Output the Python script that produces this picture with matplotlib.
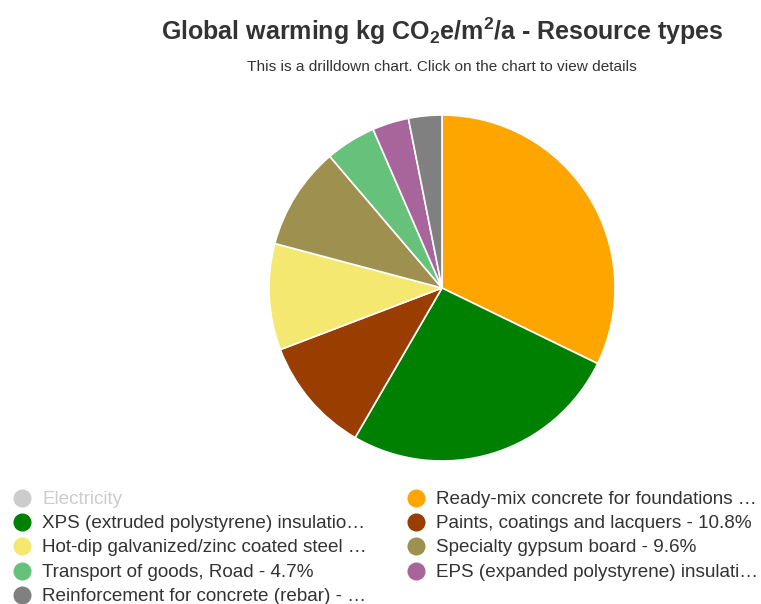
import numpy as np
import matplotlib.pyplot as plt
from matplotlib.lines import Line2D

plt.rcParams['font.family'] = ['Liberation Sans', 'DejaVu Sans']
plt.rcParams['mathtext.fontset'] = 'custom'
plt.rcParams['mathtext.rm'] = 'Liberation Sans:bold'
plt.rcParams['mathtext.default'] = 'rm'

# --- Data (share in %) ---
labels = ["Electricity",
          "Ready-mix concrete for foundations …",
          "XPS (extruded polystyrene) insulatio…",
          "Paints, coatings and lacquers - 10.8%",
          "Hot-dip galvanized/zinc coated steel …",
          "Specialty gypsum board - 9.6%",
          "Transport of goods, Road - 4.7%",
          "EPS (expanded polystyrene) insulati…",
          "Reinforcement for concrete (rebar) - …"]
values  = [0.3, 32.1, 26.1, 10.8, 9.9, 9.6, 4.7, 3.4, 3.1]
visible = [False, True, True, True, True, True, True, True, True]
colors  = ["#cccccc", "#ffa500", "#008000", "#993d00", "#f5e870",
           "#9e9150", "#66c17a", "#a8659b", "#808080"]

W, H = 761, 604
fig = plt.figure(figsize=(W / 100, H / 100), dpi=100)

# --- Pie ---
cx, cy, r = 442, 288, 173
ax = fig.add_axes([(cx - r) / W, (H - cy - r) / H, 2 * r / W, 2 * r / H])
vals = [v for v, s in zip(values, visible) if s]
cols = [c for c, s in zip(colors, visible) if s]
ax.pie(vals, colors=cols, startangle=90, counterclock=False, radius=1,
       wedgeprops=dict(edgecolor="white", linewidth=1.2))
ax.set_xlim(-1, 1)
ax.set_ylim(-1, 1)
ax.set_aspect("equal")
ax.axis("off")

# --- Titles ---
fig.text(cx / W, 1 - 31.5 / H, r"Global warming kg CO$_2$e/m$^2$/a - Resource types",
         ha="center", va="center", fontsize=18, fontweight="bold", color="#333333")
fig.text(cx / W, 1 - 67 / H, "This is a drilldown chart. Click on the chart to view details",
         ha="center", va="center", fontsize=11.1, color="#333333")

# --- Legend (row-major, two columns) ---
col_x = [22, 416]
row_y0, row_dy = 498, 24.2
for i, (lab, col, vis) in enumerate(zip(labels, colors, visible)):
    row, c = divmod(i, 2)
    x = col_x[c]
    y = row_y0 + row * row_dy
    fig.add_artist(Line2D([x / W], [1 - y / H], marker="o", markersize=13,
                          color=col, markeredgewidth=0, transform=fig.transFigure))
    fig.text((x + 20) / W, 1 - (y + 1.5) / H, lab, ha="left", va="center",
             fontsize=13.6, color="#333333" if vis else "#cccccc")

plt.savefig("out.png", dpi=100)
